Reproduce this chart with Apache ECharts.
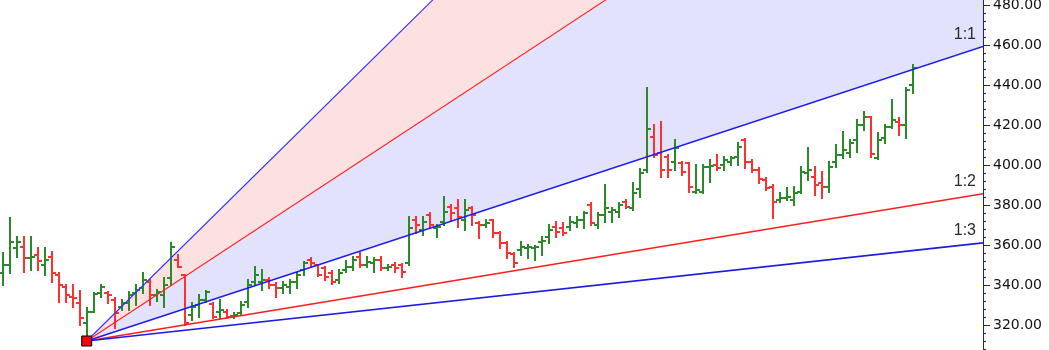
<!DOCTYPE html>
<html>
<head>
<meta charset="utf-8">
<script src="https://cdn.jsdelivr.net/npm/echarts@6/dist/echarts.min.js"></script>
<style>
html,body{margin:0;padding:0;background:#fff;}
#chart{width:1049px;height:350px;}
</style>
</head>
<body>
<div id="chart"></div>
<script>
// ---- data (price bars, index = bar number) ----
const opens = [345.8,350,358.3,359.2,353.3,355,350,354.2,345,339.2,334.2,330.8,320.8,326.7,335.8,335.8,332.5,329.2,330.8,335.8,
338.3,341.3,335,335,343.3,352.5,345,325,330,332.5,330.5,326.7,326.7,324.5,325.8,331.7,341.7,341.7,342.5,340,
338.3,339.2,341.7,347.5,352.5,350,348.3,345.8,342.5,347.5,349.2,354.2,350,350.8,352.5,348.3,350,350,350.8,372.5,
367.5,375,368.3,371.7,379.2,378.3,372.5,378.7,370.8,370,372.5,365.8,360.8,355.5,357.5,358.3,358.3,361.7,364.2,369.2,
368.3,369.2,371.2,372.5,380,370,375,376.7,376.7,381.7,378.3,388,397.5,413.8,405.8,404.2,401.7,400.8,400.8,386.7,
386.7,398.8,400,400,401.7,404.2,412.5,401.7,397.5,392.5,389.2,382.5,383.3,382.5,386.7,395.8,394.2,390.8,389.2,401.7,
405,405.8,412.5,420,423.8,403.3,413.3,419.2,421.7,420,440];
const highs = [355.8,373.7,364.2,364.2,364.2,358.3,358.3,356.7,345.8,340,340,337,328.3,335.8,340,336.3,333.3,332.5,336.3,340,
345.8,342.5,337.5,343.3,360.8,355,345,330.8,335,337,330.8,332.5,327.5,325.8,331.7,342.5,349.2,347.5,343.3,340.8,
341.7,342.5,345.8,351.7,353.3,350,349.2,347,347.5,352,354.2,355.8,354.2,353.7,354.2,350,350.8,350.3,374.2,374.2,
374.2,375.8,370,384.2,380,382.5,382.5,379.2,371.7,372.5,372.5,366.7,361.7,355.8,361.7,360,359.7,364.2,370,371.7,
370.8,374.2,374.2,376.7,380.8,375.8,390,378.3,380.8,382.5,390.8,398,438.3,420,421.7,405,412.5,401.7,400.8,400,
400,402.5,405,404.2,404.2,410.8,412.8,402.5,398.3,393.3,390,385.8,388.3,389.2,399.2,408.3,399.2,396.7,401.7,410,
416.7,412.5,422.5,426.7,424.2,415.8,420,432.5,423.3,438.3,450];
const lows = [340,345.8,354.2,346.7,347.5,347.5,345,341.7,331.7,331.7,329.2,320,312,326.5,334.2,330.8,318.3,327.5,327.5,330,
335.8,330,332,329.2,340,348.8,320,322.5,324.2,331.7,323.3,323.3,323.3,323.7,325,329.2,340,337.5,338.3,334.2,
335.8,335.8,338.3,345,349.2,344.7,342.5,340.3,340.8,346.7,347.5,349.2,349.2,346.7,347.5,347.5,346.7,344.2,350,365.8,
365,368.3,364.2,370,372.5,369.2,367.5,370,363.3,369.2,364.2,358.3,353.3,349.2,355,353.3,352.5,355,360.8,364.2,
365,367.5,369.2,368.3,370,368.3,371.7,371.7,374.2,378.3,377.5,384.2,396.7,404.2,394.2,394.2,397.5,395,386.7,385.8,
385.8,391.7,397.5,397.5,400,400,398.3,396.7,390.8,387.5,373.3,381.7,382.5,380,385.8,392.5,385,383.3,386.7,399.2,
403.3,404.2,406.7,417.5,404.2,402.8,410.8,418.3,415,413.3,435.8];
const closes = [350,361.3,361.3,353.3,354.2,352,352.5,345.8,340,335,333.3,323.3,326.7,335.5,339.2,335,325.8,330.8,335,337.5,
342.5,335,336.3,340,359.2,349.2,320.8,329.2,332.5,336.7,324.2,327.5,324.2,325,330,340,345,342.5,340,338.3,
340,341.7,345,350.8,350.8,345,344.2,341.7,345.8,349.2,352.5,350,351.7,352.5,348.3,349.2,348.3,346.3,368.3,370,
371.7,370,369.2,376.7,375.8,374.2,377.5,375,370,371.2,366.2,360.8,355.8,351.2,359.2,359.2,359.2,361.8,367.5,366.7,
365.8,371.7,372.5,375.8,370.8,375,378.3,377.5,380,379.2,385.8,396,417.8,405,397.5,397.5,408.3,396.7,389.2,387.5,
399.2,399.5,398.3,402.5,403.3,409.2,401.7,397.5,392.8,388.3,381.7,383.3,384.2,385.8,396.7,397.5,390,389.2,399.2,405,
407.5,410.8,420,423.8,405.5,412.5,419.2,422.5,420,437.5,448.3];

// ---- Gann fan ----
const fanAnchor = [12, 312];          // [bar index, price]
const fanUnit = 1.15;                 // price per bar for the 1:1 line
const fanRatios = [3, 2, 1, 1/2, 1/3];
const fanNames = ['3:1', '2:1', '1:1', '1:2', '1:3'];

// ---- axis ----
const yTicksMin = 300, yTicksMax = 490, yTickStep = 20;
const xMin = -0.386, xMax = 140.04;

const GREEN = '#2a8a2a', RED = '#ff3030';
const fanColors = ['#3030ff', '#ff2020', '#1c1cf0', '#ff1c1c', '#1c1ce0'];
const fanWidths = [1.1, 1.1, 1.5, 1.7, 1.7];
const fillColors = ['#fde1e1', '#e2e2fc'];

const bars = opens.map((o, i) => [i, o, highs[i], lows[i], closes[i]]);

function renderBar(params, api) {
  const i = api.value(0);
  const o = api.coord([i, api.value(1)]);
  const h = api.coord([i, api.value(2)]);
  const l = api.coord([i, api.value(3)]);
  const c = api.coord([i, api.value(4)]);
  const x = Math.round(o[0]);
  const col = api.value(4) >= api.value(1) ? GREEN : RED;
  const st = {stroke: col, lineWidth: 2};
  return {
    type: 'group',
    children: [
      {type: 'line', shape: {x1: x, y1: Math.round(h[1]) - 1, x2: x, y2: Math.round(l[1]) + 1}, style: st},
      {type: 'line', shape: {x1: x - 4, y1: Math.round(o[1]), x2: x, y2: Math.round(o[1])}, style: st},
      {type: 'line', shape: {x1: x, y1: Math.round(c[1]), x2: x + 4, y2: Math.round(c[1])}, style: st}
    ]
  };
}

function renderFan(params, api) {
  const a = api.coord(fanAnchor);
  const ends = fanRatios.map(r => api.coord([xMax, fanAnchor[1] + r * fanUnit * (xMax - fanAnchor[0])]));
  const children = [];
  children.push({type: 'polygon', shape: {points: [a, ends[0], ends[1]]}, style: {fill: fillColors[0]}});
  children.push({type: 'polygon', shape: {points: [a, ends[1], ends[2]]}, style: {fill: fillColors[1]}});
  return {type: 'group', children};
}

function renderFanLines(params, api) {
  const a = api.coord(fanAnchor);
  const children = [];
  fanRatios.forEach((r, k) => {
    const e = api.coord([xMax, fanAnchor[1] + r * fanUnit * (xMax - fanAnchor[0])]);
    children.push({type: 'line', shape: {x1: a[0], y1: a[1], x2: e[0], y2: e[1]}, style: {stroke: fanColors[k], lineWidth: fanWidths[k]}});
    if (r <= 1) {
      children.push({type: 'text', x: e[0] - 7, y: e[1] - 4,
        style: {text: fanNames[k], align: 'right', verticalAlign: 'bottom', fill: '#2a2a2a', font: '16px "Liberation Sans", Arial, sans-serif'}});
    }
  });
  return {type: 'group', children};
}

const chart = echarts.init(document.getElementById('chart'), null, {renderer: 'canvas'});
chart.setOption({
  animation: false,
  backgroundColor: '#fff',
  grid: {left: 0, right: 66, top: -15, bottom: -15, containLabel: false, outerBoundsMode: 'none'},
  xAxis: {type: 'value', min: xMin, max: xMax, show: false},
  yAxis: {
    type: 'value', position: 'right', min: yTicksMin, max: yTicksMax, interval: yTickStep,
    axisLine: {show: true, onZero: false, lineStyle: {color: '#1c1c9c', width: 1}},
    axisTick: {show: true, length: 7, lineStyle: {color: '#1c1c9c'}},
    minorTick: {show: true, splitNumber: 5, length: 3, lineStyle: {color: '#1c1c9c'}},
    splitLine: {show: false},
    axisLabel: {margin: 10, color: '#111', fontSize: 14, fontFamily: 'DejaVu Sans',
      formatter: v => v.toFixed(2)}
  },
  series: [
    {type: 'custom', renderItem: renderFan, data: [fanAnchor], clip: true, z: 1, silent: true},
    {type: 'custom', renderItem: renderBar, data: bars, clip: true, z: 2,
      encode: {x: 0, y: [1, 2, 3, 4]}},
    {type: 'custom', renderItem: renderFanLines, data: [fanAnchor], clip: true, z: 3, silent: true},
    {type: 'scatter', data: [fanAnchor], symbol: 'rect', symbolSize: 10, z: 4,
      itemStyle: {color: '#ff0000', borderColor: '#000', borderWidth: 1, opacity: 1}}
  ]
});
</script>
</body>
</html>
